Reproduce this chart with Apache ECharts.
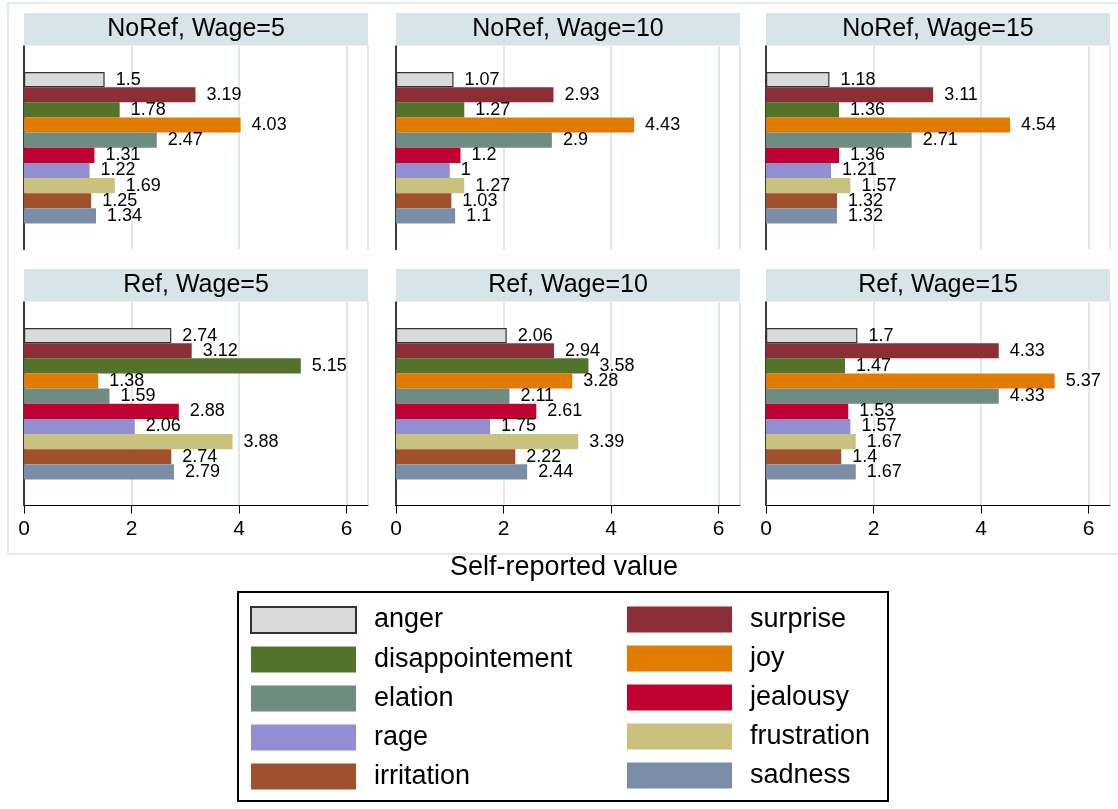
<!DOCTYPE html>
<html>
<head>
<meta charset="utf-8">
<script src="https://cdn.jsdelivr.net/npm/echarts@6/dist/echarts.min.js"></script>
<style>
  html, body { margin: 0; padding: 0; background: #fff; }
  #chart { width: 1118px; height: 809px; }
</style>
</head>
<body>
<div id="chart"></div>
<script>
// emotions in bar order (top to bottom)
const emotions = ['anger', 'surprise', 'disappointement', 'joy', 'elation',
  'jealousy', 'rage', 'frustration', 'irritation', 'sadness'];
const emotionColors = ['#dadada', '#8b2e37', '#55722c', '#e27c00', '#6e8c80',
  '#bf0030', '#938dd2', '#cac17e', '#a0502d', '#7a8fa7'];

const panelTitles = ['NoRef, Wage=5', 'NoRef, Wage=10', 'NoRef, Wage=15',
  'Ref, Wage=5', 'Ref, Wage=10', 'Ref, Wage=15'];

const noRefWage5  = [1.5, 3.19, 1.78, 4.03, 2.47, 1.31, 1.22, 1.69, 1.25, 1.34];
const noRefWage10 = [1.07, 2.93, 1.27, 4.43, 2.9, 1.2, 1, 1.27, 1.03, 1.1];
const noRefWage15 = [1.18, 3.11, 1.36, 4.54, 2.71, 1.36, 1.21, 1.57, 1.32, 1.32];
const refWage5    = [2.74, 3.12, 5.15, 1.38, 1.59, 2.88, 2.06, 3.88, 2.74, 2.79];
const refWage10   = [2.06, 2.94, 3.58, 3.28, 2.11, 2.61, 1.75, 3.39, 2.22, 2.44];
const refWage15   = [1.7, 4.33, 1.47, 5.37, 4.33, 1.53, 1.57, 1.67, 1.4, 1.67];
const panels = [noRefWage5, noRefWage10, noRefWage15, refWage5, refWage10, refWage15];

const xTicks = [0, 2, 4, 6];
const xMax = 6.4;
const axisTitle = 'Self-reported value';

const FONT = '"Liberation Sans", Arial, sans-serif';
const colLeft = [24, 396, 766];
const rowTop = [46, 302];
const plotW = 344, plotH = 203.5, stripH = 33;

const chart = echarts.init(document.getElementById('chart'));

const grids = [], xAxes = [], yAxes = [], series = [], graphics = [];

// outer light frame
graphics.push({
  type: 'rect', shape: { x: 8, y: 3, width: 1130, height: 551 },
  style: { fill: 'none', stroke: '#e3ecec', lineWidth: 2 }, silent: true
});

panels.forEach((vals, p) => {
  const col = p % 3, row = Math.floor(p / 3);
  const left = colLeft[col], top = rowTop[row];
  grids.push({ left: left, top: top, width: plotW, height: plotH });
  const bottomRow = row === 1;
  xAxes.push({
    type: 'value', gridIndex: p, min: 0, max: xMax, interval: xTicks[1] - xTicks[0],
    axisLine: { show: bottomRow, onZero: false, lineStyle: { color: '#000', width: 1 } },
    axisTick: { show: bottomRow, length: 8, lineStyle: { color: '#000' } },
    axisLabel: { show: bottomRow, fontSize: 21, color: '#000', fontFamily: FONT, margin: 13,
      showMaxLabel: false },
    splitLine: { show: true, lineStyle: { color: '#dde9eb', width: 2 } }
  });
  yAxes.push({
    type: 'category', gridIndex: p, data: [''], inverse: true,
    axisLine: { show: true, lineStyle: { color: '#000', width: 1.5 } },
    axisTick: { show: false }, axisLabel: { show: false }
  });

  // panel strip
  graphics.push({
    type: 'rect', shape: { x: left, y: top - stripH, width: plotW, height: stripH - 0.5 },
    style: { fill: '#d7e5ea' }, silent: true
  });
  graphics.push({
    type: 'text', x: left + plotW / 2, y: top - stripH / 2,
    style: { text: panelTitles[p], fontSize: 25, fontFamily: FONT, fill: '#000',
      align: 'center', verticalAlign: 'middle' }, silent: true
  });

  emotions.forEach((name, e) => {
    series.push({
      type: 'bar', name: name, xAxisIndex: p, yAxisIndex: p,
      data: [vals[e]],
      barGap: '0%', barCategoryGap: '25.6%',
      itemStyle: {
        color: emotionColors[e],
        borderColor: e === 0 ? '#333' : emotionColors[e],
        borderWidth: e === 0 ? 1.2 : 0
      },
      label: { show: true, position: 'right', distance: 11, fontSize: 18,
        fontFamily: FONT, color: '#000' },
      emphasis: { disabled: true }
    });
  });
});

// x axis title
graphics.push({
  type: 'text', x: 564, y: 568,
  style: { text: axisTitle, fontSize: 27, fontFamily: FONT, fill: '#000',
    align: 'center', verticalAlign: 'middle' }, silent: true
});

// legend box
graphics.push({
  type: 'rect', shape: { x: 238, y: 592, width: 650, height: 209 },
  style: { fill: '#fff', stroke: '#000', lineWidth: 2 }, silent: true, z: -1
});

const legendBase = {
  orient: 'vertical', icon: 'rect', itemWidth: 105, itemHeight: 26, itemGap: 12,
  selectedMode: false, top: 606, padding: 0,
  textStyle: { fontSize: 27, fontFamily: FONT, color: '#000', lineHeight: 21,
    padding: [5, 0, 0, 13] }
};

chart.setOption({
  animation: false,
  backgroundColor: '#fff',
  grid: grids,
  xAxis: xAxes,
  yAxis: yAxes,
  series: series,
  legend: [
    Object.assign({}, legendBase, { left: 250, data: emotions.filter((_, i) => i % 2 === 0) }),
    Object.assign({}, legendBase, { left: 627, data: emotions.filter((_, i) => i % 2 === 1) })
  ],
  graphic: graphics
});
</script>
</body>
</html>
